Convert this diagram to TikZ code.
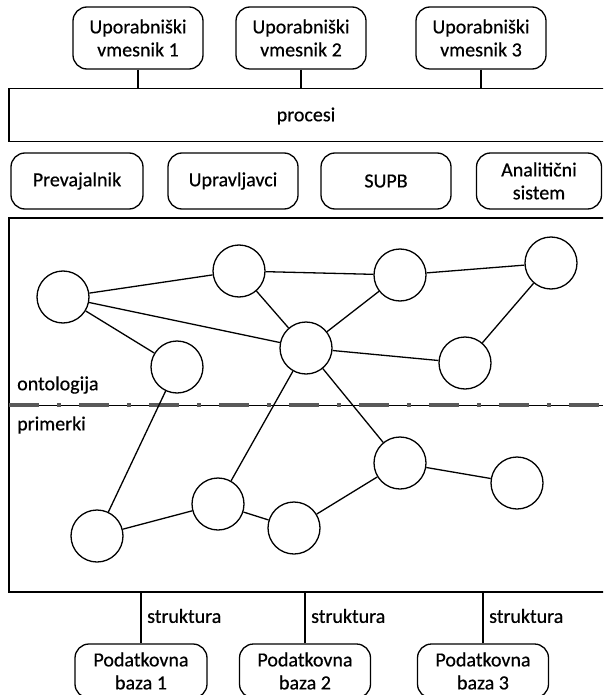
\documentclass[tikz,border=0pt]{standalone}
\usepackage{fontspec}
\setmainfont{Carlito}[FakeBold=0.5]
\begin{document}
\begin{tikzpicture}[x=1pt,y=-1pt,
  every node/.style={font=\fontsize{20}{23}\selectfont},
  rbox/.style={draw, rounded corners=14pt, line width=1.3pt, align=center, inner sep=0pt},
  bar/.style={draw, line width=1.3pt, inner sep=0pt},
  onode/.style={draw, circle, minimum size=52pt, inner sep=0pt, line width=1.3pt},
  link/.style={line width=1.3pt},
  lbl/.style={anchor=west, inner sep=0pt}]
\useasboundingbox (0,0) rectangle (603,695);
\clip (0,0) rectangle (603,695);

% user interfaces
\node[rbox, minimum width=130pt, minimum height=62pt] (ui1) at (138,38) {Uporabniški\\vmesnik 1};
\node[rbox, minimum width=130pt, minimum height=62pt] (ui2) at (301,38) {Uporabniški\\vmesnik 2};
\node[rbox, minimum width=130pt, minimum height=62pt] (ui3) at (481,38) {Uporabniški\\vmesnik 3};

% processes bar
\node[bar, minimum width=606pt, minimum height=53pt] (proc) at (312,115) {};
\node (proclbl) at (306,116) {procesi};
\foreach \u in {ui1,ui2,ui3} \draw[link] (\u.south) -- (\u.south |- proc.north);

% components
\node[rbox, minimum width=132pt, minimum height=56pt] (c1) at (77,181) {Prevajalnik};
\node[rbox, minimum width=130pt, minimum height=56pt] (c2) at (233,181) {Upravljavci};
\node[rbox, minimum width=130pt, minimum height=56pt] (c3) at (386,181) {SUPB};
\node[rbox, minimum width=125pt, minimum height=56pt] (c4) at (539,181) {Analitični\\sistem};

% knowledge frame
\node[bar, minimum width=606pt, minimum height=374pt] (frame) at (312,405) {};
\coordinate (sepL) at (9,405);
\coordinate (sepR) at (603,405);
\draw[line width=1pt] (sepL) -- (sepR);
\draw[line width=3.5pt, black!65, dash pattern=on 30pt off 18pt on 4pt off 18pt] (sepL) -- (sepR);
\node[lbl] (onto) at (17,385) {ontologija};
\node[lbl] (prim) at (17,425) {primerki};

% ontology graph
\node[onode] (A) at (63,297) {};
\node[onode] (B) at (239,271) {};
\node[onode] (C) at (400,275) {};
\node[onode] (D) at (551,263) {};
\node[onode] (E) at (177,367) {};
\node[onode] (F) at (306,348) {};
\node[onode] (G) at (465,363) {};
% instance graph
\node[onode] (H) at (400,463) {};
\node[onode] (I) at (517,483) {};
\node[onode] (J) at (218,504) {};
\node[onode] (K) at (294,528) {};
\node[onode] (L) at (97,536) {};

\foreach \a/\b in {A/B,A/F,A/E,B/C,B/F,C/D,C/F,F/G,D/G,E/L,F/J,F/H,H/I,H/K,J/K,L/J}
  \draw[link] (\a) -- (\b);

% databases
\node[rbox, minimum width=132pt, minimum height=54pt] (db1) at (141,671) {Podatkovna\\baza 1};
\node[rbox, minimum width=131pt, minimum height=54pt] (db2) at (305,671) {Podatkovna\\baza 2};
\node[rbox, minimum width=131pt, minimum height=54pt] (db3) at (483,671) {Podatkovna\\baza 3};
\foreach \d in {db1,db2,db3} {
  \draw[link] (\d.north) -- (\d.north |- frame.south);
  \node[lbl] at ([xshift=6pt]\d.north |- 0,616) {struktura};
}
\end{tikzpicture}
\end{document}
